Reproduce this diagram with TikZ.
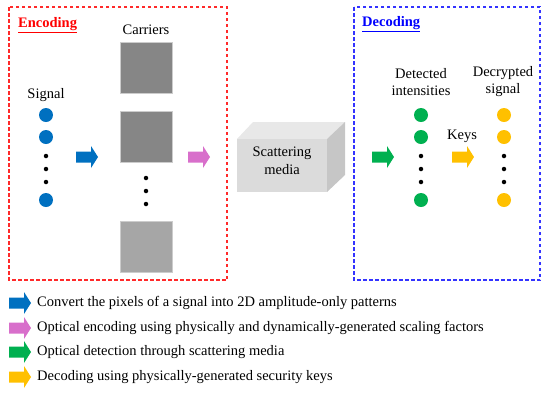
\documentclass[tikz,border=0pt]{standalone}
\usepackage{fontspec}
\setmainfont{Liberation Serif}
\usetikzlibrary{calc}
\definecolor{cblue}{HTML}{0070C0}
\definecolor{cpink}{HTML}{D86FCB}
\definecolor{cgreen}{HTML}{00B050}
\definecolor{corange}{HTML}{FFC000}
\definecolor{cred}{HTML}{FF2A2A}
\definecolor{cdblue}{HTML}{3333FF}
\tikzset{
  dot/.style={circle,fill=#1,inner sep=0pt,minimum size=14pt},
  smalldot/.style={circle,fill=black,inner sep=0pt,minimum size=4.5pt},
  carrier/.style={rectangle,fill=#1,draw=gray!40,line width=0.6pt,inner sep=0pt,minimum width=52pt,minimum height=51pt},
  lbl/.style={font=\fontsize{14.5}{17}\selectfont,inner sep=0pt,align=center},
  frame/.style={dashed,line width=1.3pt,dash pattern=on 3.5pt off 2.5pt},
  pics/blockarrow/.style={code={
    \fill[#1] (0,-5.5) -- (15,-5.5) -- (15,-11) -- (22,0) -- (15,11) -- (15,5.5) -- (0,5.5) -- cycle;
  }}
}
\begin{document}
\begin{tikzpicture}[x=1pt,y=-1pt]
\useasboundingbox (0,0) rectangle (542,392);
% frames
\draw[frame,cred] (9,7) rectangle (227,280);
\draw[frame,cdblue] (354,7) rectangle (540,280);
\node[lbl,anchor=west,text=red] (enc) at (18,25) {\underline{\textbf{Encoding}}};
\node[lbl,anchor=west,text=blue] (dec) at (362,24) {\underline{\textbf{Decoding}}};
% signal
\node[lbl] (sig) at (46,95) {Signal};
\node[dot=cblue] (s1) at (46,115) {};
\node[dot=cblue] (s2) at (46,137) {};
\node[smalldot] (sd1) at (46,156) {};
\node[smalldot] (sd2) at (46,169) {};
\node[smalldot] (sd3) at (46,182) {};
\node[dot=cblue] (s3) at (46,200) {};
\pic at (76,157) {blockarrow=cblue};
% carriers
\node[lbl] (car) at (146,30) {Carriers};
\node[carrier=gray!95!white] (c1) at (146,67.5) {};
\node[carrier=gray!95!white] (c2) at (146,136.5) {};
\node[smalldot] (cd1) at (146,178) {};
\node[smalldot] (cd2) at (146,191) {};
\node[smalldot] (cd3) at (146,204) {};
\node[carrier=gray!70!white] (c3) at (146,246.5) {};
\pic at (188,157) {blockarrow=cpink};
% scattering media cube
\fill[gray!18] (237,139) -- (253,122) -- (345,122) -- (327,139) -- cycle;
\fill[gray!45] (327,139) -- (345,122) -- (345,175) -- (327,192) -- cycle;
\fill[gray!28] (237,139) rectangle (327,192);
\node[lbl] (med) at (282,161) {Scattering\\[1pt]media};
% decoding
\pic at (372,157) {blockarrow=cgreen};
\node[lbl] (det) at (421,82) {Detected\\intensities};
\node[dot=cgreen] (g1) at (421,115) {};
\node[dot=cgreen] (g2) at (421,137) {};
\node[smalldot] (gd1) at (421,156) {};
\node[smalldot] (gd2) at (421,169) {};
\node[smalldot] (gd3) at (421,182) {};
\node[dot=cgreen] (g3) at (421,200) {};
\node[lbl] (keys) at (462,136) {Keys};
\pic at (452,157) {blockarrow=corange};
\node[lbl] (decs) at (503,82) {Decrypted\\signal};
\node[dot=corange] (o1) at (504,115) {};
\node[dot=corange] (o2) at (504,137) {};
\node[smalldot] (od1) at (504,156) {};
\node[smalldot] (od2) at (504,169) {};
\node[smalldot] (od3) at (504,182) {};
\node[dot=corange] (o3) at (504,200) {};
% legend
\pic at (9,303) {blockarrow=cblue};
\pic at (9,328) {blockarrow=cpink};
\pic at (9,352) {blockarrow=cgreen};
\pic at (9,377) {blockarrow=corange};
\node[lbl,anchor=west] (l1) at (37,303) {Convert the pixels of a signal into 2D amplitude-only patterns};
\node[lbl,anchor=west] (l2) at (37,328) {Optical encoding using physically and dynamically-generated scaling factors};
\node[lbl,anchor=west] (l3) at (37,352) {Optical detection through scattering media};
\node[lbl,anchor=west] (l4) at (37,377) {Decoding using physically-generated security keys};
\end{tikzpicture}
\end{document}
